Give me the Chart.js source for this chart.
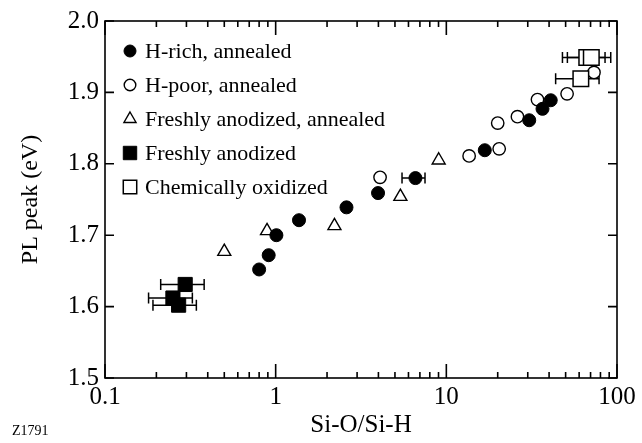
<!DOCTYPE html>
<html><head><meta charset="utf-8">
<script src="https://cdn.jsdelivr.net/npm/chart.js@4.4.1/dist/chart.umd.min.js"></script>
<style>html,body{margin:0;padding:0;background:#fff;}#wrap{width:642px;height:443px;position:relative;}</style>
</head><body><div id="wrap"><canvas id="c" width="642" height="443"></canvas></div>
<script>
// ---- data ----
const seriesNames = ['H-rich, annealed','H-poor, annealed','Freshly anodized, annealed','Freshly anodized','Chemically oxidized'];

const hRichX = [0.80, 0.91, 1.01, 1.37, 2.60, 3.98, 6.59, 16.8, 30.6, 36.6, 40.9];
const hRichY = [1.652, 1.672, 1.700, 1.721, 1.739, 1.759, 1.780, 1.819, 1.861, 1.877, 1.889];
const hRichErrLow  = [null, null, null, null, null, null, 5.5, null, null, null, null];
const hRichErrHigh = [null, null, null, null, null, null, 7.5, null, null, null, null];

const hPoorX = [4.09, 13.6, 20.4, 20.0, 26.1, 34.2, 51.0, 73.3];
const hPoorY = [1.781, 1.811, 1.821, 1.857, 1.866, 1.890, 1.898, 1.928];

const freshAnnX = [0.50, 0.89, 2.21, 5.38, 9.02];
const freshAnnY = [1.677, 1.706, 1.713, 1.754, 1.805];

const freshX = [0.295, 0.25, 0.27];
const freshY = [1.631, 1.612, 1.602];
const freshErrLow  = [0.212, 0.18, 0.191];
const freshErrHigh = [0.381, 0.325, 0.343];

const chemX = [66.5, 70.7, 61.4];
const chemY = [1.949, 1.949, 1.919];
const chemErrLow  = [47.9, 51.2, 43.7];
const chemErrHigh = [85.1, 91.9, 78.5];

const xLabelValues = [0.1, 1, 10, 100];
const xTickLabels = ['0.1', '1', '10', '100'];
const yTickValues = [1.5, 1.6, 1.7, 1.8, 1.9, 2.0];
const yTickLabels = ['1.5', '1.6', '1.7', '1.8', '1.9', '2.0'];
const xTitle = 'Si-O/Si-H';
const yTitle = 'PL peak (eV)';
const figId = 'Z1791';

// minor tick positions on the log axis (1..9 per decade)
const xTickValues = [];
for (let d = 0; d < xLabelValues.length - 1; d++) {
  for (let k = 1; k <= 9; k++) xTickValues.push(+(xLabelValues[d] * k).toPrecision(4));
}
xTickValues.push(xLabelValues[xLabelValues.length - 1]);

function pts(xs, ys, lo, hi) {
  return xs.map((x, i) => ({x: x, y: ys[i], xLo: lo ? lo[i] : null, xHi: hi ? hi[i] : null}));
}

const FONT = 'Liberation Serif';
Chart.defaults.font.family = FONT;
Chart.defaults.color = '#000';

const datasets = [
  {label: seriesNames[0], data: pts(hRichX, hRichY, hRichErrLow, hRichErrHigh), pointStyle: 'circle', pointRadius: 6.5,
   backgroundColor: '#000', borderColor: '#000', borderWidth: 1, order: 3, legendRadius: 6},
  {label: seriesNames[1], data: pts(hPoorX, hPoorY), pointStyle: 'circle', pointRadius: 6.2,
   backgroundColor: '#fff', borderColor: '#000', borderWidth: 1.4, order: 4, legendRadius: 5.8},
  {label: seriesNames[2], data: pts(freshAnnX, freshAnnY), pointStyle: 'triangle', pointRadius: 7.5,
   backgroundColor: '#fff', borderColor: '#000', borderWidth: 1.4, order: 5, legendRadius: 7},
  {label: seriesNames[3], data: pts(freshX, freshY, freshErrLow, freshErrHigh), pointStyle: 'rect', pointRadius: 10,
   backgroundColor: '#000', borderColor: '#000', borderWidth: 1, order: 1, legendRadius: 9.5},
  {label: seriesNames[4], data: pts(chemX, chemY, chemErrLow, chemErrHigh), pointStyle: 'rect', pointRadius: 11,
   backgroundColor: '#fff', borderColor: '#000', borderWidth: 1.5, order: 2, legendRadius: 9.5}
];

const errorBars = {
  id: 'errorBars',
  beforeDatasetsDraw(chart) {
    const ctx = chart.ctx, xs = chart.scales.x, ys = chart.scales.y;
    ctx.save();
    ctx.strokeStyle = '#000';
    ctx.lineWidth = 1.5;
    chart.data.datasets.forEach(ds => {
      ds.data.forEach(p => {
        if (p.xLo == null || p.xHi == null) return;
        const y = ys.getPixelForValue(p.y);
        const x1 = xs.getPixelForValue(p.xLo), x2 = xs.getPixelForValue(p.xHi);
        ctx.beginPath();
        ctx.moveTo(x1, y); ctx.lineTo(x2, y);
        ctx.moveTo(x1, y - 5.5); ctx.lineTo(x1, y + 5.5);
        ctx.moveTo(x2, y - 5.5); ctx.lineTo(x2, y + 5.5);
        ctx.stroke();
      });
    });
    ctx.restore();
  }
};

const frame = {
  id: 'frame',
  afterDraw(chart) {
    const ctx = chart.ctx, a = chart.chartArea, xs = chart.scales.x, ys = chart.scales.y;
    ctx.save();
    ctx.strokeStyle = '#000';
    ctx.lineWidth = 1.6;
    ctx.strokeRect(a.left, a.top, a.right - a.left, a.bottom - a.top);
    ctx.beginPath();
    xs.ticks.forEach(t => {
      const x = xs.getPixelForValue(t.value);
      const major = xLabelValues.some(v => Math.abs(v - t.value) / v < 1e-6);
      const L = major ? 14 : 6;
      ctx.moveTo(x, a.bottom); ctx.lineTo(x, a.bottom - L);
      ctx.moveTo(x, a.top); ctx.lineTo(x, a.top + L);
    });
    ys.ticks.forEach(t => {
      const y = ys.getPixelForValue(t.value);
      ctx.moveTo(a.left, y); ctx.lineTo(a.left + 9, y);
      ctx.moveTo(a.right, y); ctx.lineTo(a.right - 9, y);
    });
    ctx.stroke();

    // legend
    const rows = [51, 85, 119, 153, 187];
    ctx.font = '22px "' + FONT + '"';
    ctx.textBaseline = 'middle';
    ctx.textAlign = 'left';
    chart.data.datasets.forEach((ds, i) => {
      const y = rows[i], x = 130;
      ctx.fillStyle = ds.backgroundColor;
      ctx.strokeStyle = ds.borderColor;
      ctx.lineWidth = ds.borderWidth;
      Chart.helpers.drawPoint(ctx, {pointStyle: ds.pointStyle, radius: ds.legendRadius, rotation: 0, borderWidth: ds.borderWidth}, x, y);
      ctx.fillStyle = '#000';
      ctx.fillText(ds.label, 145, y + 1);
    });

    ctx.font = '14px "' + FONT + '"';
    ctx.fillStyle = '#000';
    ctx.fillText(figId, 12, 431);
    ctx.restore();
  }
};

new Chart(document.getElementById('c'), {
  type: 'scatter',
  data: {datasets: datasets},
  options: {
    responsive: false,
    devicePixelRatio: 1,
    animation: false,
    layout: {padding: {left: 0, right: 25, top: 20, bottom: 0}},
    plugins: {legend: {display: false}, tooltip: {enabled: false}},
    scales: {
      x: {
        type: 'logarithmic', min: 0.1, max: 100, position: 'bottom',
        grid: {display: false, drawTicks: false}, border: {display: false},
        afterBuildTicks: s => { s.ticks = xTickValues.map(v => ({value: v})); },
        ticks: {autoSkip: false, maxRotation: 0, padding: 4, color: '#000', font: {family: FONT, size: 25},
          callback: v => { const i = xLabelValues.findIndex(t => Math.abs(t - v) / t < 1e-6); return i >= 0 ? xTickLabels[i] : ''; }},
        title: {display: true, text: xTitle, color: '#000', font: {family: FONT, size: 25}, padding: {top: 0, bottom: 3}},
        afterFit: s => { s.height = 65; }
      },
      y: {
        type: 'linear', min: 1.5, max: 2.0, position: 'left',
        grid: {display: false, drawTicks: false}, border: {display: false},
        afterBuildTicks: s => { s.ticks = yTickValues.map(v => ({value: v})); },
        ticks: {autoSkip: false, padding: 6, color: '#000', font: {family: FONT, size: 25},
          callback: (v, i) => yTickLabels[i]},
        title: {display: true, text: yTitle, color: '#000', font: {family: FONT, size: 24}, padding: {top: 16, bottom: 0}},
        afterFit: s => { s.width = 105; }
      }
    }
  },
  plugins: [errorBars, frame]
});
</script>
</body></html>
